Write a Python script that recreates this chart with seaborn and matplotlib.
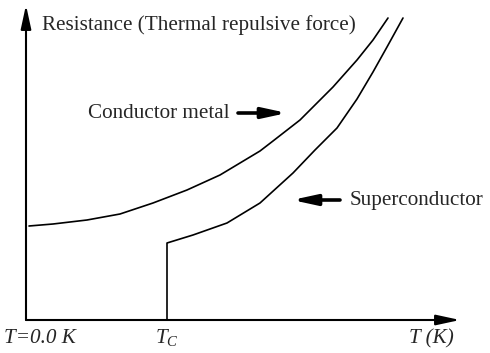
import matplotlib

matplotlib.use("Agg")

import matplotlib.pyplot as plt
import pandas as pd
import seaborn as sns

# schematic values, x = temperature, y = resistance (arbitrary units)
conductor_t = [3, 27, 61, 94, 127, 161, 194, 214, 234, 247, 274, 307, 331, 347, 362]
conductor_r = [94, 96, 100, 106, 117, 130, 145, 157, 169, 179, 200, 233, 260, 280, 302]

tc = 141
super_t = [tc, tc, 167, 201, 234, 267, 289, 311, 331, 347, 361, 377]
super_r = [0, 77, 85, 97, 117, 147, 170, 192, 221, 248, 273, 302]

x_labels = ["T=0.0 K", "$T_C$", "T (K)"]
x_label_pos = [-22, tc, 405]

sns.set_theme(style="white")
plt.rcParams["font.family"] = ["Liberation Serif", "DejaVu Serif"]
plt.rcParams["mathtext.fontset"] = "custom"
plt.rcParams["mathtext.it"] = "Liberation Serif:italic"
plt.rcParams["mathtext.rm"] = "Liberation Serif"

conductor = pd.DataFrame({"T": conductor_t, "R": conductor_r})
superc = pd.DataFrame({"T": super_t, "R": super_r})

fig = plt.figure(figsize=(4.9, 3.53), dpi=100)
ax = fig.add_axes([26 / 490, 33 / 353, 464 / 490, 320 / 353])
ax.set_xlim(0, 464)
ax.set_ylim(0, 320)
ax.axis("off")

for df in (conductor, superc):
    sns.lineplot(data=df, x="T", y="R", color="black", lw=1.2,
                 estimator=None, sort=False, ax=ax,
                 solid_joinstyle="round")

axis_arrow = dict(arrowstyle="-|>,head_length=0.6,head_width=0.13",
                  mutation_scale=24, lw=1.5, color="black",
                  shrinkA=0, shrinkB=0)
ax.annotate("", xy=(434, 0), xytext=(0, 0), arrowprops=axis_arrow,
            annotation_clip=False)
ax.annotate("", xy=(0, 315), xytext=(0, 0), arrowprops=axis_arrow,
            annotation_clip=False)

label_arrow = dict(arrowstyle="-|>,head_length=0.6,head_width=0.13",
                   mutation_scale=24, lw=2.6, color="black",
                   shrinkA=0, shrinkB=0)
ax.annotate("", xy=(261, 207), xytext=(212, 207), arrowprops=label_arrow)
ax.annotate("", xy=(266, 120), xytext=(314, 120), arrowprops=label_arrow)

fs = 15.2
ax.text(16, 290, "Resistance (Thermal repulsive force)", fontsize=fs,
        va="baseline", ha="left", clip_on=False)
ax.text(62, 207, "Conductor metal", fontsize=fs, va="center", ha="left")
ax.text(324, 120, "Superconductor", fontsize=fs, va="center", ha="left")

for label, pos in zip(x_labels, x_label_pos):
    ax.text(pos, -23, label, fontsize=fs, fontstyle="italic",
            ha="left" if pos < 0 else "center", va="baseline", clip_on=False)

fig.savefig("out.png", dpi=100)
